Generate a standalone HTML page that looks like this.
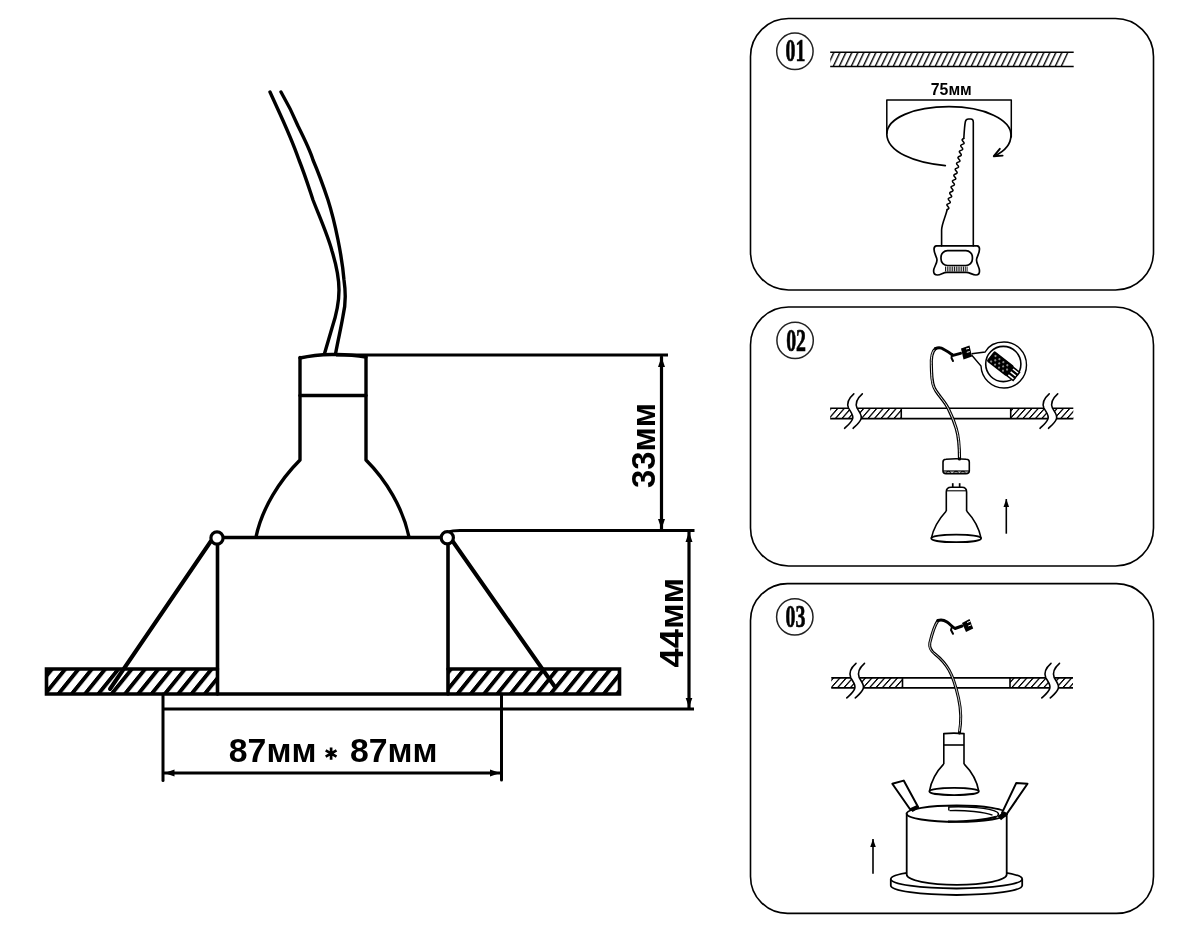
<!DOCTYPE html>
<html><head><meta charset="utf-8"><title>Lamp installation</title>
<style>
html,body{margin:0;padding:0;background:#fff;}
body{width:1200px;height:933px;overflow:hidden;font-family:"Liberation Sans",sans-serif;}
svg{display:block;}
svg{will-change:transform;}
.b{font-family:"Liberation Sans",sans-serif;font-weight:bold;fill:#000;}
.n{font-family:"Liberation Serif",serif;font-weight:bold;fill:#000;}
</style></head><body>
<svg width="1200" height="933" viewBox="0 0 1200 933">
<defs>
<pattern id="hBig" patternUnits="userSpaceOnUse" width="13.3" height="100" patternTransform="translate(9.65,669) skewX(-39)">
<rect x="0" y="0" width="5" height="100" fill="#000"/>
</pattern>
<pattern id="hSm" patternUnits="userSpaceOnUse" width="6" height="100" patternTransform="translate(5.33,52) skewX(-25.5)">
<rect x="0" y="0" width="1.5" height="100" fill="#000"/>
</pattern>
<pattern id="hP2L" patternUnits="userSpaceOnUse" width="6.5" height="100" patternTransform="translate(5.25,408) skewX(-41)">
<rect x="0" y="0" width="1.7" height="100" fill="#000"/>
</pattern>
<pattern id="hP2R" patternUnits="userSpaceOnUse" width="6.3" height="100" patternTransform="translate(4.6,408) skewX(-42)">
<rect x="0" y="0" width="1.7" height="100" fill="#000"/>
</pattern>
<pattern id="hP3L" patternUnits="userSpaceOnUse" width="6.4" height="100" patternTransform="translate(0.6,678) skewX(-42)">
<rect x="0" y="0" width="1.7" height="100" fill="#000"/>
</pattern>
<pattern id="hP3R" patternUnits="userSpaceOnUse" width="6.4" height="100" patternTransform="translate(1.95,678) skewX(-42)">
<rect x="0" y="0" width="1.7" height="100" fill="#000"/>
</pattern>
<marker id="ar" viewBox="0 0 10 10" refX="10" refY="5" markerWidth="10" markerHeight="10" markerUnits="userSpaceOnUse" orient="auto-start-reverse">
<path d="M0,1.5 L10,5 L0,8.5 z" fill="#000"/>
</marker>
<marker id="ars" viewBox="0 0 10 10" refX="10" refY="5" markerWidth="8" markerHeight="8" markerUnits="userSpaceOnUse" orient="auto">
<path d="M0,1.5 L10,5 L0,8.5 z" fill="#000"/>
</marker>
</defs>
<!-- ================= MAIN DIAGRAM ================= -->
<g fill="none" stroke="#000" stroke-linecap="round" stroke-linejoin="round">
 <!-- wires -->
 <path d="M270,92 C279,112 290,134 299,160 C305,175 309,188 313,200 C320,218 328,236 332,251 C336,264 339,278 339,290 C339,303 336,316 332,328 L324.4,354" stroke-width="3.4"/>
 <path d="M281,92 C288,104 293,114 298,126 C305,140 310,150 313,160 C319,174 324,188 328,200 C335,222 342,256 344,280 C346,294 345.5,306 343,316 C341,328 338,340 335.5,354" stroke-width="3.4"/>
 <!-- lamp -->
 <path d="M300,358 C318,354 345,353 366,357" stroke-width="3.4"/>
 <path d="M300,357.5 L300,460 C280,480 262,508 256,537" stroke-width="3.4"/>
 <path d="M366,357 L366,460 C386,480 403,508 409,537" stroke-width="3.4"/>
 <line x1="300" y1="395.5" x2="366" y2="395.5" stroke-width="3.4"/>
 <!-- extension lines -->
 <line x1="336" y1="355" x2="668" y2="355" stroke-width="3" stroke-linecap="butt"/>
 <path d="M449,532 C452,530.5 456,530.5 460,530.5 L694.5,530.5" stroke-width="3.2" stroke-linecap="butt"/>
 <!-- rim line -->
 <line x1="217" y1="537.5" x2="447" y2="537.5" stroke-width="3.6"/>
 <!-- body verticals -->
 <line x1="217.5" y1="542" x2="217.5" y2="694" stroke-width="3.6"/>
 <line x1="448" y1="542" x2="448" y2="694" stroke-width="3.6"/>
 <!-- springs -->
 <line x1="211" y1="541" x2="110" y2="689" stroke-width="4"/>
 <line x1="452.5" y1="541" x2="555" y2="687" stroke-width="4"/>
 <!-- hatched bars -->
 <rect x="46.5" y="669" width="171" height="25" fill="url(#hBig)" stroke="none"/>
 <rect x="448" y="669" width="171.5" height="25" fill="url(#hBig)" stroke="none"/>
 <path d="M217.5,669 L46.5,669 L46.5,694 L619.5,694 L619.5,669 L448,669" stroke-width="3.6" stroke-linejoin="miter"/>
 <!-- trim ring lines -->
 <line x1="163" y1="694" x2="163" y2="780.5" stroke-width="3"/>
 <line x1="501.5" y1="694" x2="501.5" y2="780" stroke-width="3"/>
 <line x1="163" y1="709" x2="694" y2="709" stroke-width="3.2" stroke-linecap="butt"/>
 <!-- dimension lines -->
 <line x1="164.5" y1="773" x2="500" y2="773" stroke-width="3" marker-start="url(#ar)" marker-end="url(#ar)"/>
 <line x1="661.5" y1="357" x2="661.5" y2="529" stroke-width="3.2" marker-start="url(#ar)" marker-end="url(#ar)"/>
 <line x1="689" y1="532" x2="689" y2="707.5" stroke-width="3.2" marker-start="url(#ar)" marker-end="url(#ar)"/>
</g>
<!-- pivot circles -->
<circle cx="217" cy="538" r="6.1" fill="#fff" stroke="#000" stroke-width="3.2"/>
<circle cx="447.3" cy="537.8" r="6.1" fill="#fff" stroke="#000" stroke-width="3.2"/>

<text class="b" x="228.8" y="762.3" font-size="33.2" textLength="87.6" lengthAdjust="spacingAndGlyphs">87мм</text>
<text class="b" x="350" y="762.3" font-size="33.2" textLength="87.6" lengthAdjust="spacingAndGlyphs">87мм</text>
<path d="M331.1,747.4 V759.7 M325.7,750.4 L336.5,756.6 M325.7,756.6 L336.5,750.4" stroke="#000" stroke-width="2.7" fill="none"/>
<text class="b" font-size="33.6" transform="translate(655.3,488) rotate(-90)" textLength="85" lengthAdjust="spacingAndGlyphs">33мм</text>
<text class="b" font-size="33.6" transform="translate(683.2,667.5) rotate(-90)" textLength="89.5" lengthAdjust="spacingAndGlyphs">44мм</text>
<!-- ================= PANELS ================= -->
<g fill="none" stroke="#000" stroke-width="1.6">
 <rect x="750.5" y="18.5" width="403" height="271.5" rx="38" ry="38"/>
 <rect x="750.5" y="307" width="403" height="259" rx="38" ry="38"/>
 <rect x="750.5" y="583.6" width="403" height="329.8" rx="37" ry="37"/>
</g>
<g fill="none" stroke="#222" stroke-width="1.5">
 <circle cx="794.9" cy="51.3" r="18.2"/>
 <circle cx="795.1" cy="340.4" r="18.2"/>
 <circle cx="794.8" cy="616.9" r="18.2"/>
</g>
<text class="n" transform="translate(785.6,61.2) scale(0.64,1)" font-size="31" stroke="#000" stroke-width="0.7">01</text>
<text class="n" transform="translate(786.2,350.6) scale(0.64,1)" font-size="31" stroke="#000" stroke-width="0.7">02</text>
<text class="n" transform="translate(785.6,626.8) scale(0.64,1)" font-size="31" stroke="#000" stroke-width="0.7">03</text>

<!-- ===== panel 1 ===== -->
<path d="M830.2,52.3 L1069,52.3 L1063,66.5 L830.2,66.5 Z" fill="url(#hSm)"/>
<g stroke="#000" stroke-width="1.5" fill="none">
 <line x1="830.2" y1="52.3" x2="1073.7" y2="52.3"/>
 <line x1="830.2" y1="66.5" x2="1073.7" y2="66.5"/>
</g>
<text class="b" x="930.8" y="94.7" font-size="15.8" textLength="41" lengthAdjust="spacingAndGlyphs">75мм</text>
<g fill="none" stroke="#000" stroke-width="1.7" stroke-linecap="round" stroke-linejoin="round">
 <path d="M886.8,133.5 V99.9 H1011.3 V137" stroke-width="1.5"/>
 <path d="M945.3,165.6 C915,163 887,152 886.8,134 C887,118 914,106.7 949,106.7 C985,106.7 1011,120 1011,135 C1011,145 1003,152 994.5,156"/>
 <path d="M999.8,148.8 L993.8,156.2 L1002.6,155.6" stroke-width="1.9"/>
 <!-- saw blade -->
 <path d="M963.8,138.5 C964.3,130 964.8,124 965.4,121.5 Q966,119 968.5,119 L970.8,119 Q973.3,119 973.3,122 L973.3,246" stroke-width="1.6"/>
 <path d="M963.80,138.50 L962.66,139.01 L962.09,139.66 L962.32,140.49 L963.11,141.46 L963.90,142.42 L964.13,143.26 L963.55,143.90 L962.42,144.42 L961.28,144.93 L960.71,145.58 L960.93,146.41 L961.72,147.38 L962.52,148.34 L962.74,149.17 L962.17,149.82 L961.03,150.33 L959.90,150.85 L959.32,151.49 L959.55,152.33 L960.34,153.29 L961.13,154.26 L961.36,155.09 L960.79,155.74 L959.65,156.25 L958.51,156.76 L957.94,157.41 L958.17,158.24 L958.96,159.21 L959.75,160.17 L959.98,161.01 L959.40,161.65 L958.27,162.17 L957.13,162.68 L956.56,163.33 L956.78,164.16 L957.58,165.12 L958.37,166.09 L958.59,166.92 L958.02,167.57 L956.88,168.08 L955.75,168.60 L955.17,169.24 L955.40,170.08 L956.19,171.04 L956.98,172.01 L957.21,172.84 L956.64,173.49 L955.50,174.00 L954.36,174.51 L953.79,175.16 L954.02,175.99 L954.81,176.96 L955.60,177.92 L955.83,178.76 L955.25,179.40 L954.12,179.92 L952.98,180.43 L952.41,181.08 L952.63,181.91 L953.42,182.88 L954.22,183.84 L954.44,184.67 L953.87,185.32 L952.73,185.83 L951.60,186.35 L951.02,186.99 L951.25,187.83 L952.04,188.79 L952.83,189.76 L953.06,190.59 L952.49,191.24 L951.35,191.75 L950.21,192.26 L949.64,192.91 L949.87,193.74 L950.66,194.71 L951.45,195.67 L951.68,196.51 L951.10,197.15 L949.97,197.67 L948.83,198.18 L948.26,198.83 L948.48,199.66 L949.28,200.62 L950.07,201.59 L950.29,202.42 L949.72,203.07 L948.58,203.58 L947.45,204.10 L946.87,204.74 L947.10,205.58 L947.89,206.54 L948.68,207.51 L948.91,208.34 L948.34,208.99 L947.20,209.50" stroke-width="1.5"/>
 <path d="M947.2,209.5 C945.5,217 942,223 941.6,230 L941.6,246" stroke-width="1.6"/>
 <!-- handle -->
 <path d="M936.5,245.8 L977,245.8 Q979.5,246 979.5,249 C979.5,254 976.5,257 976.5,260 C976.5,264 979.5,267 979.5,271 Q979.5,275 976,275 C972,275 970,272.3 966,272.3 L947,272.3 C943,272.3 941,275 937.5,275 Q933.6,275 933.6,271 C933.6,267 937,264 937,260 C937,257 934,254 934,249 Q934,246 936.5,245.8 Z" stroke-width="1.7"/>
 <rect x="941" y="250.7" width="31.4" height="14.8" rx="6.5" ry="6.5" stroke-width="1.7"/>
</g>
<g stroke="#000" stroke-width="0.9">
 <path d="M945.5,266.5 V271.5 M947.3,266.5 V271.5 M949.1,266.5 V271.5 M950.9,266.5 V271.5 M952.7,266.5 V271.5 M954.5,266.5 V271.5 M956.3,266.5 V271.5 M958.1,266.5 V271.5 M959.9,266.5 V271.5 M961.7,266.5 V271.5 M963.5,266.5 V271.5 M965.3,266.5 V271.5 M967.1,266.5 V271.5"/>
</g>

<!-- ===== panel 2 ===== -->
<rect x="830.2" y="408.2" width="71" height="10.4" fill="url(#hP2L)"/>
<rect x="1010.7" y="408.2" width="62.6" height="10.4" fill="url(#hP2R)"/>
<g stroke="#000" stroke-width="1.6" fill="none">
 <line x1="830.2" y1="408.2" x2="1073.3" y2="408.2"/>
 <line x1="830.2" y1="418.6" x2="1073.3" y2="418.6"/>
 <line x1="901.25" y1="408.2" x2="901.25" y2="418.6"/>
 <line x1="1010.7" y1="408.2" x2="1010.7" y2="418.6"/>
</g>
<g id="brk2">
 <path d="M853.8,393.8 C849,398 846.5,403 848.5,408 C850.5,412 854,415 852.5,419 C851,423 847,426 844.6,428.3 L853.1,428.3 C855.5,426 859.5,423 861,419 C862.5,415 859,412 857,408 C855,403 857.5,398 862.3,393.8 Z" fill="#fff" stroke="none"/>
 <path d="M853.8,393.8 C849,398 846.5,403 848.5,408 C850.5,412 854,415 852.5,419 C851,423 847,426 844.6,428.3 M862.3,393.8 C857.5,398 855,403 857,408 C859,412 862.5,415 861,419 C859.5,423 855.5,426 853.1,428.3" fill="none" stroke="#000" stroke-width="1.6" stroke-linecap="round"/>
</g>
<use href="#brk2" transform="translate(195.4,0)"/>
<!-- wire -->
<g fill="none" stroke-linecap="round" stroke-linejoin="round">
 <path d="M935.4,348.7 C931,352 931,360 931.4,367 C931.8,375 931,384 936,391 C940,397 945,402 948,408 C951,414 954,421 956.2,428.4 C958.5,436 959.5,444 959.5,459" stroke="#000" stroke-width="3.2"/>
 <path d="M935.4,348.7 C931,352 931,360 931.4,367 C931.8,375 931,384 936,391 C940,397 945,402 948,408 C951,414 954,421 956.2,428.4 C958.5,436 959.5,444 959.5,457" stroke="#fff" stroke-width="0.9"/>
 <path d="M935.4,348.7 C938,347.5 941,347.5 944,349.5 C947,351 950,353 953,355.4 L960.5,353.4" stroke="#000" stroke-width="3"/>
 <path d="M952,354 L951.5,358 L953,361" stroke="#000" stroke-width="2"/>
</g>
<path d="M961,348.5 L969.5,345.5 L972,356.5 L963.5,359.5 Z" fill="#000"/>
<g stroke="#fff" stroke-width="1"><path d="M966,349 L969,348.3 M966.8,352.3 L969.8,351.6"/></g>
<!-- magnifier -->
<g fill="none" stroke="#000" stroke-width="1.6">
 <path d="M971.6,353.7 L985.1,352 C989,345 996,342 1004,342 C1016.7,342 1026.5,352.3 1026.5,365 C1026.5,377.7 1016.7,388 1004,388 C991.3,388 981.5,378 981,366 L971.6,355" stroke-width="1.4"/>
 <circle cx="1003.3" cy="364" r="17.6"/>
</g>
<g transform="translate(1001.5,364.5) rotate(38)">
 <rect x="-14" y="-6.5" width="25" height="13" rx="1.5" fill="#000"/>
 <g fill="#fff" opacity="0.55"><circle cx="-10" cy="-3" r="1.1"/><circle cx="-5" cy="-3" r="1.1"/><circle cx="0" cy="-3" r="1.1"/><circle cx="5" cy="-3" r="1.1"/><circle cx="-7.5" cy="0.5" r="1.1"/><circle cx="-2.5" cy="0.5" r="1.1"/><circle cx="2.5" cy="0.5" r="1.1"/><circle cx="7.5" cy="0.5" r="1.1"/><circle cx="-10" cy="4" r="1.1"/><circle cx="-5" cy="4" r="1.1"/><circle cx="0" cy="4" r="1.1"/><circle cx="5" cy="4" r="1.1"/></g>
 <g fill="#fff" stroke="#000" stroke-width="1.5"><rect x="11" y="-5" width="8" height="3"/><rect x="11" y="-1.3" width="8" height="3"/><rect x="11" y="2.4" width="8" height="3"/></g>
</g>
<!-- socket -->
<g fill="none" stroke="#000" stroke-width="1.6">
 <path d="M943,471 L943,462 Q943,459.3 946,459.2 C952,458.6 960,458.6 966.3,459.2 Q969.3,459.3 969.3,462 L969.3,471 Q969.3,473.6 966,473.6 L946,473.6 Q943,473.6 943,471 Z"/>
 <line x1="943" y1="471" x2="969.3" y2="471" stroke-width="1.2"/>
 <ellipse cx="948.4" cy="472.3" rx="2.2" ry="1" stroke-width="1"/>
 <ellipse cx="956" cy="472.3" rx="2.2" ry="1" stroke-width="1"/>
 <ellipse cx="962.9" cy="472.3" rx="2.2" ry="1" stroke-width="1"/>
</g>
<!-- GU10 bulb -->
<g fill="#000"><rect x="951.9" y="483.2" width="1.7" height="4.5"/><rect x="958.8" y="483.2" width="1.7" height="4.5"/></g>
<g fill="none" stroke="#000" stroke-width="1.6" stroke-linejoin="round">
 <path d="M946.3,511 L946.3,492 Q946.3,487.3 951,487.3 L962,487.3 Q966.6,487.3 966.6,492 L966.6,511"/>
 <line x1="946.3" y1="490.8" x2="966.6" y2="490.8" stroke-width="1.1"/>
 <path d="M946.3,511 C938,520 933,530 931.3,538.4"/>
 <path d="M966.6,511 C975,520 979.5,530 981.1,538.4"/>
 <ellipse cx="956.2" cy="538.4" rx="24.9" ry="3.8" stroke-width="1.8"/>
</g>
<line x1="1006.3" y1="533.7" x2="1006.3" y2="499" stroke="#000" stroke-width="1.6" marker-end="url(#ars)"/>

<!-- ===== panel 3 ===== -->
<rect x="831.25" y="677.9" width="71.25" height="10" fill="url(#hP3L)"/>
<rect x="1010" y="677.9" width="63" height="10" fill="url(#hP3R)"/>
<g stroke="#000" stroke-width="1.6" fill="none">
 <line x1="831.25" y1="677.9" x2="1073" y2="677.9"/>
 <line x1="831.25" y1="687.9" x2="1073" y2="687.9"/>
 <line x1="902.5" y1="677.9" x2="902.5" y2="687.9"/>
 <line x1="1010" y1="677.9" x2="1010" y2="687.9"/>
</g>
<use href="#brk2" transform="translate(2.2,269.6)"/>
<use href="#brk2" transform="translate(197.2,269.6)"/>
<!-- wire -->
<g fill="none" stroke-linecap="round" stroke-linejoin="round">
 <path d="M938,620.5 C934,626 931.5,636 929.8,643 C929,648 931,651 935,654 C940,658 945,663 949,670 C953,677 956,687 958.5,698 C960.5,707 962,718 959.4,733" stroke="#000" stroke-width="3"/>
 <path d="M938,620.5 C934,626 931.5,636 929.8,643 C929,648 931,651 935,654 C940,658 945,663 949,670 C953,677 956,687 958.5,698 C960.5,707 962,718 959.4,731" stroke="#fff" stroke-width="0.8"/>
 <path d="M938,620.5 C941,619.5 944,620 947,622 C950,624 952,627 955,628.5 L962,626" stroke="#000" stroke-width="3"/>
 <path d="M952.2,626 L951,630 L953,633.8" stroke="#000" stroke-width="2"/>
</g>
<path d="M962,623 L969.5,619 L973.2,628.5 L966,632 Z" fill="#000"/>
<g stroke="#fff" stroke-width="1"><path d="M967,622.5 L970.3,621.3 M968.2,626 L971.4,624.8"/></g>
<!-- MR16 lamp -->
<g fill="none" stroke="#000" stroke-width="1.6" stroke-linejoin="round">
 <path d="M943.8,763.9 L943.8,733.6 C950,733 958,733 964,733.6 L964,763.9"/>
 <line x1="943.8" y1="745" x2="964" y2="745"/>
 <path d="M943.8,763.9 C936,772 931,782 929.4,791.4"/>
 <path d="M964,763.9 C972,772 977.2,782 978.8,791.4"/>
 <ellipse cx="954.1" cy="791.45" rx="24.7" ry="3.6" stroke-width="1.8"/>
</g>
<!-- flange -->
<g fill="#fff" stroke="#000" stroke-width="1.8">
 <path d="M890.8,879 L890.8,885.5 A65.7,9.5 0 0 0 1022.2,885.5 L1022.2,879"/>
 <ellipse cx="956.5" cy="879" rx="65.7" ry="9.5"/>
</g>
<!-- cylinder -->
<g stroke="#000" stroke-width="1.8" fill="#fff">
 <path d="M906.7,813.7 L906.7,874.5 A50,10.3 0 0 0 1006.7,874.5 L1006.7,813.7 Z"/>
 <ellipse cx="956.7" cy="813.7" rx="50" ry="8.2"/>
</g>
<g fill="none" stroke="#000" stroke-width="1.4">
 <path d="M948.8,810.5 L948.8,807 C965,806 990,808 997,812 C1000,814 998,817 993,818.3"/>
 <path d="M949.5,810.6 C965,810 985,812 992.5,815.2"/>
 <path d="M948,821.6 C965,821.5 985,820 996,816.7" stroke-width="2.2"/>
</g>
<!-- clips -->
<g fill="#fff" stroke="#000" stroke-width="2" stroke-linejoin="round">
 <path d="M892.3,783.8 L903.7,780.6 L918.1,806.9 L910.6,810 Z"/>
 <path d="M1016.2,783.1 L1027.5,783.8 L1006.9,813.8 L1001.9,813.1 Z"/>
</g>
<g fill="#000">
 <path d="M909.5,808.5 L917,805 L919.5,808 L912.5,812 Z"/>
 <path d="M997.5,816 L1004.5,811.5 L1008,814.5 L1001,820.3 Z"/>
</g>
<line x1="873" y1="873.7" x2="873" y2="839" stroke="#000" stroke-width="1.6" marker-end="url(#ars)"/>

</svg>
</body></html>
